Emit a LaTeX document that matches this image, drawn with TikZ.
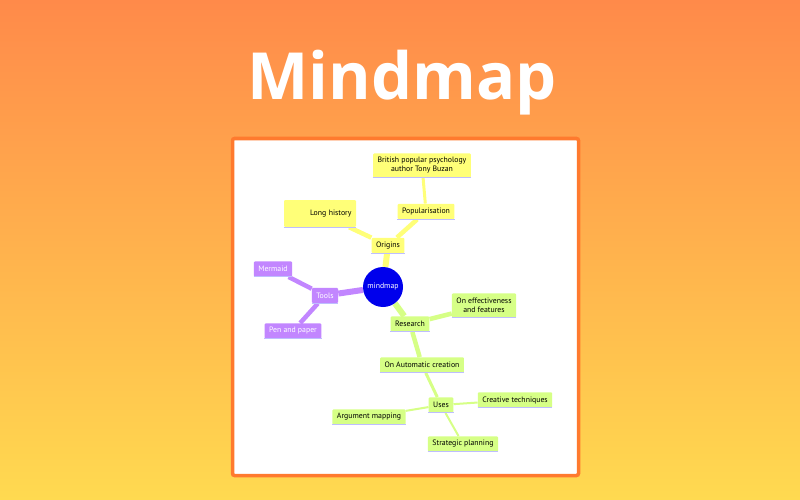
\documentclass[tikz,border=0pt]{standalone}
\usepackage{fontspec}
\setmainfont{Open Sans}
\newfontfamily\mmfont{PT Sans}
\definecolor{bgtop}{RGB}{255,138,74}
\definecolor{bgbottom}{RGB}{255,218,80}
\definecolor{framecol}{RGB}{255,122,46}
\definecolor{mmblue}{RGB}{0,0,236}
\definecolor{mmyellow}{RGB}{255,255,120}
\definecolor{mmgreen}{RGB}{214,255,134}
\definecolor{mmpurple}{RGB}{194,134,255}
\definecolor{mmline}{RGB}{190,190,255}
\usetikzlibrary{positioning,backgrounds}
\pgfdeclarelayer{bg}
\pgfdeclarelayer{edges}
\pgfsetlayers{bg,edges,main}

\begin{document}
\begin{tikzpicture}[
      x=1pt, y=-1pt,
      mmnode/.style={inner xsep=4.5pt, inner ysep=0pt, minimum height=15.5pt, rounded corners=1.2pt, font=\mmfont\fontsize{7.8}{9}\selectfont, align=center},
      yellownode/.style={mmnode, fill=mmyellow},
      greennode/.style={mmnode, fill=mmgreen},
      purplenode/.style={mmnode, fill=mmpurple, text=white},
      rootnode/.style={circle, fill=mmblue, text=white, minimum size=40pt, inner sep=0pt, font=\mmfont\fontsize{7.8}{9}\selectfont},
      underline/.style={mmline, line width=1pt},
      lvla/.style={line width=6pt},
      lvlb/.style={line width=4.5pt},
      lvlc/.style={line width=3pt},
      lvld/.style={line width=2pt}
    ]
      % Background and title
      \begin{pgfonlayer}{bg}
        \fill[top color=bgtop, bottom color=bgbottom] (0,0) rectangle (800,500);
        \node[font=\bfseries\fontsize{65}{76}\selectfont, text=white] (title) at (402,83) {Mindmap};
        \draw[framecol, line width=3.5pt, fill=white, rounded corners=2pt] (232.5,138.5) rectangle (578.5,475.5);
      \end{pgfonlayer}
      \useasboundingbox (0,0) rectangle (800,500);

      % Root
      \node[rootnode] (root) at (383,287) {mindmap};

      % Origins
      \node[yellownode] (origins) at (388,245.5) {Origins};
      \node[yellownode, minimum width=72pt, minimum height=27pt, text width=63pt, align=right] (history) at (320,213.5) {Long history};
      \node[yellownode] (popular) at (426,211.5) {Popularisation};
      \node[yellownode, minimum height=24.5pt] (buzan) at (422,165.5) {British popular psychology\\author Tony Buzan};

      % Research
      \node[greennode] (research) at (410,324) {Research};
      \node[greennode, minimum height=24.5pt] (effect) at (484,305.5) {On effectiveness\\and features};
      \node[greennode] (auto) at (422,365) {On Automatic creation};
      \node[greennode] (uses) at (441,405) {Uses};
      \node[greennode] (creative) at (515,400) {Creative techniques};
      \node[greennode] (argument) at (369,417) {Argument mapping};
      \node[greennode] (strategic) at (463,444) {Strategic planning};

      % Tools
      \node[purplenode] (tools) at (325,295.5) {Tools};
      \node[purplenode] (mermaid) at (273,269) {Mermaid};
      \node[purplenode] (pen) at (293,331) {Pen and paper};

      % Bottom lines
      \foreach \n in {origins,history,popular,buzan,research,effect,auto,uses,creative,argument,strategic,tools,mermaid,pen}
        \draw[underline] (\n.south west) -- (\n.south east);

      % Edges
      \begin{pgfonlayer}{edges}
        \draw[mmyellow, lvla] (root) -- (origins);
        \draw[mmyellow, lvlb] (origins) -- (history);
        \draw[mmyellow, lvlb] (origins) -- (popular);
        \draw[mmyellow, lvlc] (popular) -- (buzan);
        \draw[mmgreen, lvla] (root) -- (research);
        \draw[mmgreen, lvlb] (research) -- (effect);
        \draw[mmgreen, lvlb] (research) -- (auto);
        \draw[mmgreen, lvlc] (auto) -- (uses);
        \draw[mmgreen, lvld] (uses) -- (creative);
        \draw[mmgreen, lvld] (uses) -- (argument);
        \draw[mmgreen, lvld] (uses) -- (strategic);
        \draw[mmpurple, lvla] (root) -- (tools);
        \draw[mmpurple, lvlb] (tools) -- (mermaid);
        \draw[mmpurple, lvlb] (tools) -- (pen);
      \end{pgfonlayer}
    \end{tikzpicture}
\end{document}
